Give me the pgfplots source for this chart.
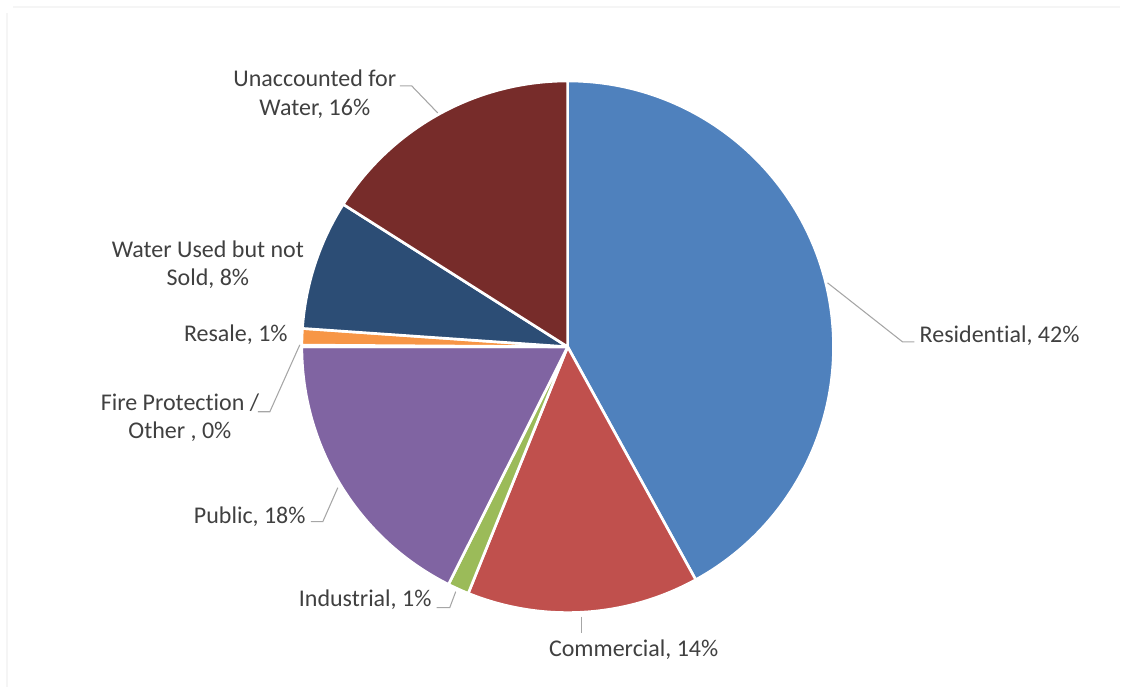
\documentclass[border=0pt]{standalone}
\usepackage{pgfplots}
\usepackage{pgfplotstable}
\pgfplotsset{compat=1.18}
\usepackage{fontspec}
\setmainfont[RawFeature={-liga;-clig;-calt;-dlig}]{Carlito}
\definecolor{slice0}{HTML}{4F81BD}
\definecolor{slice1}{HTML}{C0504D}
\definecolor{slice2}{HTML}{9BBB59}
\definecolor{slice3}{HTML}{8064A2}
\definecolor{slice4}{HTML}{4BACC6}
\definecolor{slice5}{HTML}{F79646}
\definecolor{slice6}{HTML}{2C4D75}
\definecolor{slice7}{HTML}{772C2A}
\definecolor{txt}{HTML}{404040}
\definecolor{leader}{HTML}{A6A6A6}

\pgfplotstableread{
idx value
0 42.0
1 14.1
2 1.3
3 17.6
4 0.1
5 1.0
6 7.9
7 16.0
}\piedata

\begin{document}
\begin{tikzpicture}
\begin{axis}[
  scale only axis, width=840.75pt, height=515.25pt,
  xmin=0, xmax=1121, ymin=0, ymax=687, y dir=reverse,
  hide axis, clip=false,
]
\path (axis cs:0,0) rectangle (axis cs:1121,687);
\draw[black!4, line width=1pt] (axis cs:7,687) -- (axis cs:7,13);
\draw[black!4, line width=1pt] (axis cs:13,7) -- (axis cs:1121,7);
\xdef\cumA{90}
\pgfplotsinvokeforeach{0,...,7}{%
  \pgfplotstablegetelem{#1}{value}\of\piedata
  \pgfmathsetmacro\startA{\cumA}%
  \pgfmathsetmacro\endA{\cumA-3.6*\pgfplotsretval}%
  \xdef\cumA{\endA}%
  \edef\tmp{\noexpand\fill[fill=slice#1, draw=white, line width=2pt, line join=round]
    (axis cs:568,347) -- ++(\startA:199.5pt)
    arc[start angle=\startA, end angle=\endA, radius=199.5pt] -- cycle;}%
  \tmp
}

\begin{scope}[leader, line width=0.8pt]
\draw (axis cs:828,283) -- (axis cs:903,342) -- (axis cs:915,342);
\draw (axis cs:582,617) -- (axis cs:582,633);
\draw (axis cs:456,592) -- (axis cs:450,608) -- (axis cs:437,608);
\draw (axis cs:338,488) -- (axis cs:323,522) -- (axis cs:311,522);
\draw (axis cs:300,345) -- (axis cs:270,412) -- (axis cs:258,412);
\draw (axis cs:400,86) -- (axis cs:412,86) -- (axis cs:438,113);
\end{scope}

\begin{scope}[every node/.style={font=\fontsize{18}{21.5}\selectfont, text=txt, inner sep=0pt}]
\node[anchor=west] at (axis cs:920,336) {Residen{}tial, 42\%};
\node[anchor=center] at (axis cs:634,650) {Commercial, 14\%};
\node[anchor=east] at (axis cs:432,600) {Industrial, 1\%};
\node[anchor=east] at (axis cs:306,517) {Public, 18\%};
\node[align=center, anchor=center] at (axis cs:180,418) {Fire Protec{}tion /\\Other , 0\%};
\node[anchor=east] at (axis cs:288,335) {Resale, 1\%};
\node[align=center, anchor=center] at (axis cs:208,265) {Water Used but not\\Sold, 8\%};
\node[align=center, anchor=center] at (axis cs:315,94) {Unaccounted for\\Water, 16\%};
\end{scope}
\end{axis}
\end{tikzpicture}
\end{document}
